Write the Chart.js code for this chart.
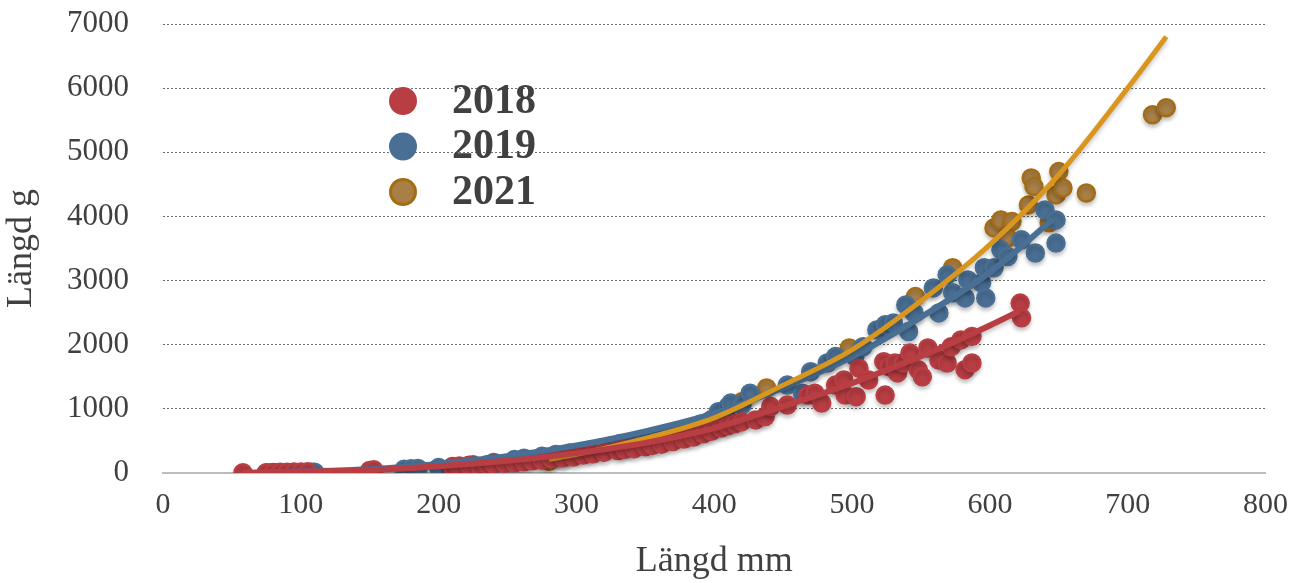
<!DOCTYPE html>
<html>
<head>
<meta charset="utf-8">
<script src="https://cdn.jsdelivr.net/npm/chart.js@4/dist/chart.umd.min.js"></script>
<style>
  html, body { margin: 0; padding: 0; background: #fff; }
  #wrap { width: 1302px; height: 583px; }
</style>
</head>
<body>
<div id="wrap"><canvas id="weight-chart" width="1302" height="583"></canvas></div>
<script>
// scatter values (length mm / weight g)
const len2018 = [58, 75, 80, 85, 90, 95, 100, 105, 150, 153, 210, 215, 222, 230, 235, 240, 248, 255, 262, 268, 275, 282, 290, 298, 305, 312, 320, 330, 335, 342, 350, 355, 362, 370, 378, 385, 392, 398, 405, 410, 415, 420, 430, 437, 441, 453, 468, 473, 478, 488, 494, 495, 503, 505, 512, 524, 523, 527, 531, 533, 537, 542, 548, 551, 555, 563, 569, 572, 579, 582, 587, 587, 622, 623];
const wt2018 = [5, 5, 8, 10, 12, 14, 16, 18, 40, 50, 95, 110, 120, 105, 130, 140, 150, 160, 175, 190, 200, 220, 240, 250, 280, 300, 320, 350, 370, 380, 410, 430, 450, 490, 530, 560, 610, 650, 700, 740, 770, 800, 827, 880, 1035, 1060, 1215, 1245, 1090, 1370, 1450, 1215, 1190, 1635, 1450, 1215, 1735, 1660, 1715, 1560, 1715, 1870, 1610, 1500, 1950, 1760, 1715, 1970, 2075, 1610, 1715, 2130, 2650, 2420];

const len2019 = [75, 78, 82, 90, 100, 108, 110, 175, 180, 185, 200, 210, 225, 240, 255, 262, 275, 285, 295, 310, 325, 332, 340, 350, 360, 370, 380, 390, 398, 403, 410, 412, 420, 426, 453, 464, 470, 482, 488, 502, 508, 518, 524, 530, 541, 539, 545, 559, 563, 569, 573, 582, 584, 594, 597, 596, 603, 608, 613, 623, 633, 640, 648, 648];
const wt2019 = [0, 2, 3, 5, 6, 10, 12, 60, 65, 70, 85, 100, 130, 165, 210, 230, 260, 290, 310, 360, 420, 460, 480, 520, 560, 600, 680, 760, 830, 955, 1035, 1090, 1060, 1245, 1370, 1245, 1580, 1715, 1815, 1815, 1970, 2230, 2310, 2340, 2205, 2620, 2495, 2885, 2495, 3090, 2810, 2730, 3010, 2965, 2730, 3200, 3200, 3480, 3375, 3635, 3430, 4100, 3945, 3585];

const len2021 = [280, 290, 335, 378, 420, 438, 498, 546, 573, 603, 608, 616, 613, 628, 630, 632, 643, 648, 650, 653, 670, 718, 728];
const wt2021 = [180, 240, 420, 640, 1110, 1325, 1950, 2750, 3200, 3820, 3945, 3920, 3665, 4180, 4600, 4465, 3900, 4335, 4700, 4445, 4365, 5585, 5695];

// trend curves, also
const trendLen2018 = [58, 150, 200, 250, 300, 350, 400, 450, 500, 550, 600, 622];
const trendWt2018 = [5, 45, 105, 190, 310, 470, 700, 1040, 1400, 1820, 2300, 2530];
const trendLen2019 = [75, 150, 200, 250, 300, 350, 400, 450, 500, 550, 600, 646];
const trendWt2019 = [8, 60, 140, 260, 430, 650, 930, 1330, 1810, 2430, 3130, 3960];
const trendLen2021 = [280, 300, 350, 400, 450, 500, 550, 600, 650, 700, 728];
const trendWt2021 = [215, 290, 540, 860, 1370, 1920, 2680, 3560, 4650, 6000, 6800];

const years = ["2018", "2019", "2021"];
const xTicks = [0, 100, 200, 300, 400, 500, 600, 700, 800];
const yTicks = [0, 1000, 2000, 3000, 4000, 5000, 6000, 7000];

const RED = "#b93e44";
const BLUE = "#4a6f94";
const GOLD = "#a46d14";
const GOLD_FILL = "#a97f47";
const GOLD_LINE = "#d9961e";
const FONT = "'Liberation Serif', 'Times New Roman', serif";

const pts = (xs, ys) => xs.map((x, i) => ({ x, y: ys[i] }));

const shadowPlugin = {
  id: "shadow",
  beforeDatasetDraw(chart) {
    const ctx = chart.ctx;
    ctx.save();
    ctx.shadowColor = "rgba(0,0,0,0.22)";
    ctx.shadowBlur = 4;
    ctx.shadowOffsetY = 3;
  },
  afterDatasetDraw(chart) {
    chart.ctx.restore();
  }
};

const legendPlugin = {
  id: "insideLegend",
  afterDraw(chart) {
    const ctx = chart.ctx;
    const rows = [
      { label: years[0], fill: RED, border: RED },
      { label: years[1], fill: BLUE, border: BLUE },
      { label: years[2], fill: GOLD_FILL, border: GOLD }
    ];
    ctx.save();
    rows.forEach((r, i) => {
      const cy = 101 + i * 45.5;
      ctx.beginPath();
      ctx.arc(403, cy, 12.5, 0, Math.PI * 2);
      ctx.fillStyle = r.fill;
      ctx.fill();
      ctx.lineWidth = 3;
      ctx.strokeStyle = r.border;
      ctx.stroke();
      ctx.fillStyle = "#404040";
      ctx.font = "bold 42px " + FONT;
      ctx.textBaseline = "middle";
      ctx.fillText(r.label, 452, cy + 1);
    });
    ctx.restore();
  }
};

const lineStyle = (color, width, order) => ({
  type: "scatter",
  showLine: true,
  borderColor: color,
  borderWidth: width,
  pointRadius: 0,
  fill: false,
  cubicInterpolationMode: "monotone",
  order
});

const dotStyle = (fill, border, order) => ({
  type: "scatter",
  backgroundColor: fill,
  borderColor: border,
  borderWidth: 2.5,
  pointRadius: 8.5,
  order
});

new Chart("weight-chart", {
  type: "scatter",
  data: {
    datasets: [
      { label: years[0], data: pts(len2018, wt2018), ...dotStyle(RED, RED, 3) },
      { label: years[1], data: pts(len2019, wt2019), ...dotStyle(BLUE, BLUE, 4) },
      { label: years[2], data: pts(len2021, wt2021), ...dotStyle(GOLD_FILL, GOLD, 5) },
      { label: "trend " + years[0], data: pts(trendLen2018, trendWt2018), ...lineStyle(RED, 6, 0) },
      { label: "trend " + years[1], data: pts(trendLen2019, trendWt2019), ...lineStyle(BLUE, 6, 2) },
      { label: "trend " + years[2], data: pts(trendLen2021, trendWt2021), ...lineStyle(GOLD_LINE, 5, 1) }
    ]
  },
  options: {
    responsive: false,
    animation: false,
    layout: { padding: { left: 0, right: 34, top: 24, bottom: 0 } },
    plugins: {
      legend: { display: false },
      tooltip: { enabled: false }
    },
    scales: {
      x: {
        min: 0,
        max: 800,
        afterBuildTicks: s => { s.ticks = xTicks.map(v => ({ value: v })); },
        afterFit: s => { s.height = 110; },
        grid: { display: false, drawTicks: false },
        border: { display: true, color: "#bdbdbd", width: 2 },
        ticks: {
          color: "#404040",
          padding: 14,
          font: { family: FONT, size: 30 }
        },
        title: {
          display: true,
          text: "Längd mm",
          color: "#404040",
          padding: { top: 18, bottom: 0 },
          font: { family: FONT, size: 36 }
        }
      },
      y: {
        min: 0,
        max: 7000,
        afterBuildTicks: s => { s.ticks = yTicks.map(v => ({ value: v })); },
        afterFit: s => {
          s.width = 163;
          s.paddingTop = 0;
          s.paddingBottom = 0;
        },
        grid: {
          color: ctx => (ctx.tick.value === 0 ? "rgba(0,0,0,0)" : "#6f6f6f"),
          lineWidth: 1,
          drawTicks: false
        },
        border: { display: false, dash: [2, 2] },
        ticks: {
          color: "#404040",
          padding: 34,
          font: { family: FONT, size: 31 },
          callback: v => String(v)
        },
        title: {
          display: true,
          text: "Längd g",
          color: "#404040",
          padding: { top: 0, bottom: 10 },
          font: { family: FONT, size: 36 }
        }
      }
    }
  },
  plugins: [shadowPlugin, legendPlugin]
});
</script>
</body>
</html>
